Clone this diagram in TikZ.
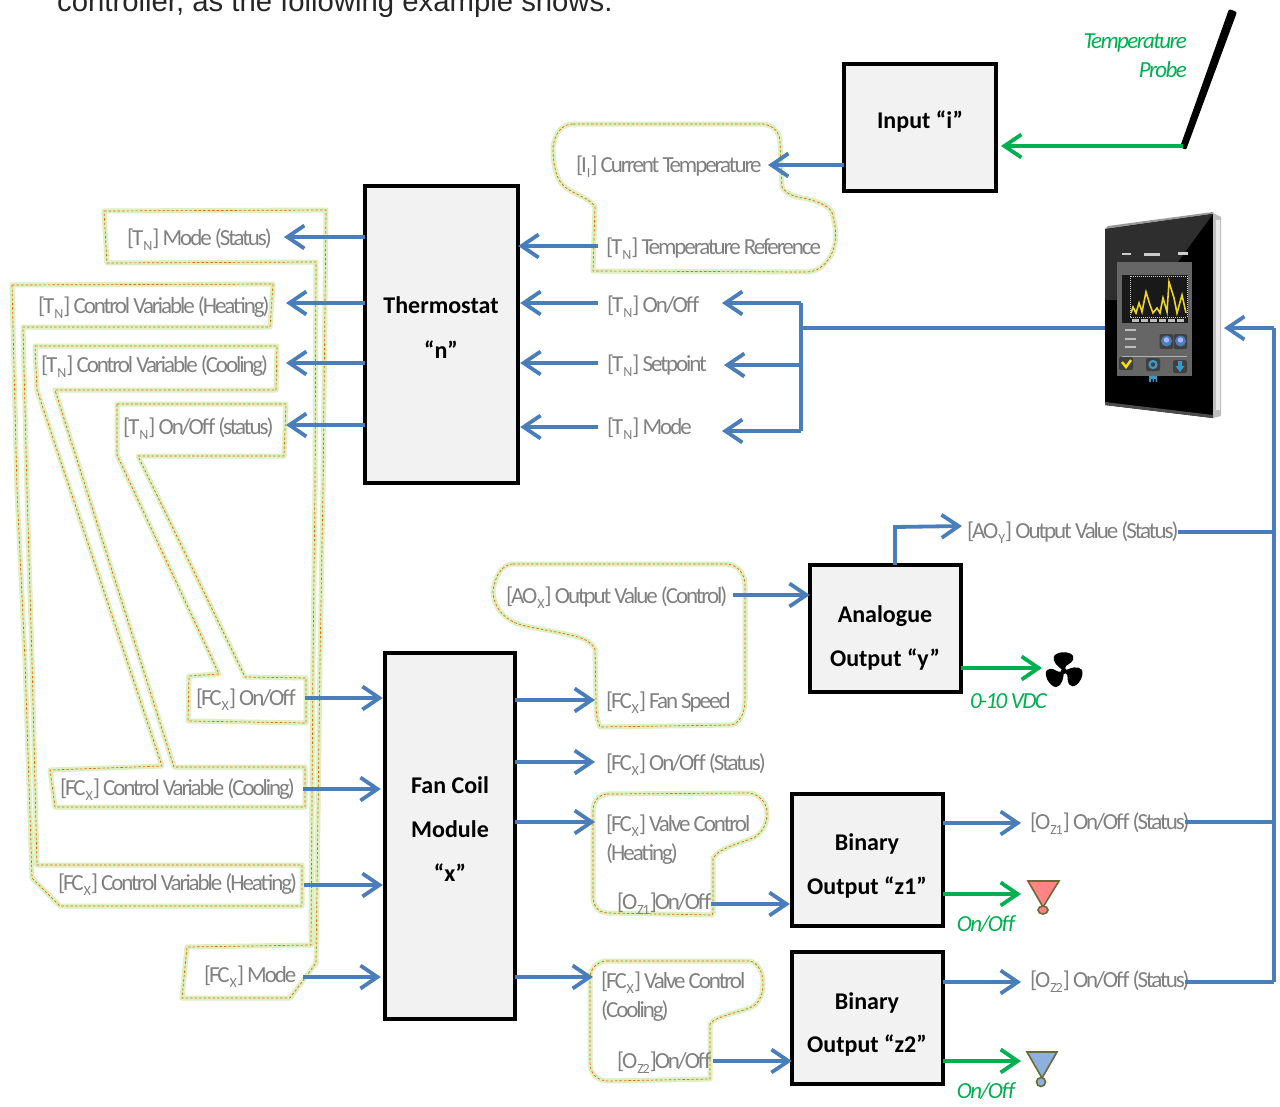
\documentclass[tikz,border=0pt]{standalone}
\usepackage{fontspec}
\setmainfont{Carlito}
\newfontfamily\labfont[LetterSpace=-9]{Carlito}
\newfontfamily\grnfont[LetterSpace=-7]{Carlito}
\newfontfamily\topfont{Liberation Sans}
\usetikzlibrary{arrows.meta,calc}
\definecolor{labgrey}{HTML}{808080}
\definecolor{arrblue}{HTML}{4A7EBB}
\definecolor{arrgreen}{HTML}{00B050}
\definecolor{halo}{HTML}{DDF0C0}
\definecolor{dashorange}{HTML}{E8660F}
\definecolor{boxfill}{HTML}{F2F2F2}
\definecolor{olive}{HTML}{6B6B3A}
\definecolor{lampred}{HTML}{FF8585}
\definecolor{lampblue}{HTML}{8DB0DC}
\newcommand{\sbx}[1]{\raisebox{-0.22em}{\fontsize{14}{14}\selectfont #1}}
\tikzset{
  x=1pt,y=-1pt,
  box/.style={draw=black,line width=3.3pt,fill=boxfill,inner sep=0pt},
  boxlab/.style={font=\fontsize{24}{24}\selectfont\bfseries,inner sep=0pt,anchor=base},
  lab/.style={anchor=base west,inner sep=0pt,text=labgrey,font=\fontsize{23}{23}\selectfont\labfont},
  grlab/.style={anchor=base east,inner sep=0pt,text=arrgreen,font=\fontsize{23}{23}\selectfont\grnfont\itshape},
  blob/.style={draw=dashorange,line width=0.7pt,dash pattern=on 2.5pt off 2pt,
     preaction={draw=halo,line width=5pt,solid,line join=round},line join=round},
  barr/.style={draw=arrblue,line width=3.8pt,-{Straight Barb[length=17pt,width=23pt,line width=3.8pt]}},
  garr/.style={draw=arrgreen,line width=3.8pt,-{Straight Barb[length=17pt,width=23pt,line width=3.8pt]}},
  bline/.style={draw=arrblue,line width=3.6pt},
  lamp/.style={draw=olive,line width=1.6pt},
}
\begin{document}
\begin{tikzpicture}
\clip (0,0) rectangle (1280,1106);
\fill[white] (0,0) rectangle (1280,1106);
\node[anchor=base west,inner sep=0pt,font=\fontsize{29.3}{29.3}\selectfont\topfont,text=black!85] (toptext) at (57,11) {controller, as the following example shows.};

% halo shapes
\draw[blob] (104,211) -- (326,210) -- (323,490) -- (320,660) -- (316,963) -- (290,998) -- (182,998) -- (187,947) -- (311,945) -- (313,660) -- (315,490) -- (316,262) -- (107,263) -- cycle;
\draw[blob] (12,285) -- (273,284) -- (270,327) -- (23,327) -- (27,490) -- (32,660) -- (37,865) -- (302,865) -- (302,906) -- (60,906) -- (32,878) -- (25,660) -- (17,490) -- cycle;
\draw[blob] (35,346) -- (277,346) -- (276,390) -- (55,390) -- (174,767) -- (305,767) -- (305,807) -- (55,807) -- (50,770) -- (162,766) -- (37,390) -- cycle;
\draw[blob] (117,404) -- (286,404) -- (284,456) -- (138,456) -- (245,677) -- (306,678) -- (306,723) -- (188,721) -- (189,676) -- (219,674) -- (117,455) -- cycle;
\draw[blob] (573,124) -- (763,124) .. controls (775,126) and (780,133) .. (780,143) -- (782,187) .. controls (786,194) and (795,197) .. (803,198) .. controls (822,202) and (833,208) .. (833,217) .. controls (836,228) and (836,235) .. (835,243) .. controls (832,260) and (820,272) .. (807,272) -- (593,271) -- (595,207) .. controls (590,198) and (575,195) .. (565,187) .. controls (556,180) and (553,165) .. (553,147) .. controls (555,133) and (562,124) .. (573,124) -- cycle;
\draw[blob] (513,564) -- (727,564) .. controls (738,565) and (745,574) .. (745,585) -- (745,700) .. controls (745,715) and (738,725) .. (730,725) -- (600,727) .. controls (597,720) and (596,715) .. (596,700) -- (595,649) .. controls (590,640) and (580,637) .. (570,635) .. controls (540,628) and (520,627) .. (510,620) .. controls (497,612) and (493,600) .. (493,591) .. controls (495,575) and (503,564) .. (513,564) -- cycle;
\draw[blob] (607,794) -- (750,793) .. controls (760,795) and (767,803) .. (767,813) .. controls (767,825) and (762,832) .. (755,837) .. controls (745,842) and (720,847) .. (713,858) -- (713,913) -- (712,915) -- (607,913) .. controls (597,912) and (593,905) .. (593,896) -- (593,809) .. controls (594,800) and (600,794) .. (607,794) -- cycle;
\draw[blob] (607,961) -- (750,961) .. controls (758,963) and (763,972) .. (763,983) .. controls (763,995) and (760,1000) .. (755,1005) .. controls (745,1012) and (716,1015) .. (710,1024) -- (710,1079) -- (607,1081) .. controls (595,1080) and (590,1072) .. (590,1062) -- (590,976) .. controls (591,968) and (598,961) .. (607,961) -- cycle;

% boxes
\node[inner sep=0pt,minimum width=152pt,minimum height=127pt] (input) at (920,127.5) {};
\draw[box] (365,186) rectangle (518,483);
\node[inner sep=0pt,minimum width=153pt,minimum height=297pt] (thermo) at (441.5,334.5) {};
\draw[box] (385,653) rectangle (515,1019);
\node[inner sep=0pt,minimum width=130pt,minimum height=366pt] (fancoil) at (450,836) {};
\draw[box] (810,565) rectangle (961,692);
\node[inner sep=0pt,minimum width=151pt,minimum height=127pt] (analog) at (885.5,628.5) {};
\draw[box] (792,794) rectangle (943,926);
\node[inner sep=0pt,minimum width=151pt,minimum height=132pt] (bz1) at (867.5,860) {};
\draw[box] (792,952) rectangle (943,1084);
\node[inner sep=0pt,minimum width=151pt,minimum height=132pt] (bz2) at (867.5,1018) {};
\draw[box] (844,64) rectangle (996,191);

\node[boxlab] (tInput) at (920,128) {Input “i”};
\node[boxlab] (tTh1) at (441,313) {Thermostat};
\node[boxlab] (tTh2) at (441,358) {“n”};
\node[boxlab] (tFc1) at (450,793) {Fan Coil};
\node[boxlab] (tFc2) at (450,837) {Module};
\node[boxlab] (tFc3) at (450,881) {“x”};
\node[boxlab] (tAn1) at (885,622) {Analogue};
\node[boxlab] (tAn2) at (885,666) {Output “y”};
\node[boxlab] (tZ11) at (867,850) {Binary};
\node[boxlab] (tZ12) at (867,894) {Output “z1”};
\node[boxlab] (tZ21) at (867,1009) {Binary};
\node[boxlab] (tZ22) at (867,1052) {Output “z2”};

% labels
\node[lab] (l1) at (127,245) {[T\sbx{N}] Mode (Status)};
\node[lab] (l2) at (38,313) {[T\sbx{N}] Control Variable (Heating)};
\node[lab] (l3) at (41,372) {[T\sbx{N}] Control Variable (Cooling)};
\node[lab] (l4) at (123,434) {[T\sbx{N}] On/Off (status)};
\node[lab] (l5) at (576,172) {[I\sbx{I}] Current Temperature};
\node[lab] (l6) at (606,254) {[T\sbx{N}] Temperature Reference};
\node[lab] (l7) at (607,312) {[T\sbx{N}] On/Off};
\node[lab] (l8) at (607,371) {[T\sbx{N}] Setpoint};
\node[lab] (l9) at (607,434) {[T\sbx{N}] Mode};
\node[lab] (l10) at (967,538) {[AO\sbx{Y}] Output Value (Status)};
\node[lab] (l11) at (506,603) {[AO\sbx{X}] Output Value (Control)};
\node[lab] (l12) at (606,708) {[FC\sbx{X}] Fan Speed};
\node[lab] (l13) at (606,770) {[FC\sbx{X}] On/Off (Status)};
\node[lab] (l14a) at (606,831) {[FC\sbx{X}] Valve Control};
\node[lab] (l14b) at (606,860) {(Heating)};
\node[lab] (l15) at (617,909) {[O\sbx{Z1}]On/Off};
\node[lab] (l16a) at (601,988) {[FC\sbx{X}] Valve Control};
\node[lab] (l16b) at (601,1017) {(Cooling)};
\node[lab] (l17) at (617,1068) {[O\sbx{Z2}]On/Off};
\node[lab] (l18) at (1030,829) {[O\sbx{Z1}] On/Off (Status)};
\node[lab] (l19) at (1030,987) {[O\sbx{Z2}] On/Off (Status)};
\node[lab] (l20) at (196,705) {[FC\sbx{X}] On/Off};
\node[lab] (l21) at (60,795) {[FC\sbx{X}] Control Variable (Cooling)};
\node[lab] (l22) at (58,890) {[FC\sbx{X}] Control Variable (Heating)};
\node[lab] (l23) at (204,982) {[FC\sbx{X}] Mode};

\node[grlab] (g1) at (1187,48) {Temperature};
\node[grlab] (g2) at (1187,77) {Probe};
\node[grlab] (g3) at (1047,708) {0-10 VDC};
\node[grlab] (g4) at (1015,931) {On/Off};
\node[grlab] (g5) at (1015,1098) {On/Off};

% device (screen photo)
\node[inner sep=0pt,minimum width=116pt,minimum height=205pt] (device) at (1163,316) {};
\fill[black] (1105,229) -- (1213,213) -- (1213,418) -- (1105,405) -- cycle;
\fill[gray!50!white] (1213,213) -- (1221,217) -- (1221,416) -- (1213,418) -- cycle;
\fill[white!92!black] (1216,220) rectangle (1220,410);
\fill[black!40] (1105,229) -- (1108,226) -- (1213,212) -- (1213,214) -- cycle;
\fill[black!70] (1105,405) -- (1213,418) -- (1213,415) -- (1105,402) -- cycle;
\fill[black!82] (1105,229) -- (1213,214) -- (1150,300) -- (1105,300) -- cycle;
\fill[black!60] (1117,262) rectangle (1192,376);
\fill[black!90] (1122,275) rectangle (1188,323);
\draw[white!80!black,line width=.7pt,dash pattern=on 1pt off 1pt] (1130,276) rectangle (1187,317);
\draw[yellow!70!brown,line width=1.6pt] (1131,313) -- (1133,307) -- (1136,313) -- (1139,303) -- (1142,312) -- (1146,292) -- (1150,305) -- (1153,313) -- (1157,308) -- (1160,313) -- (1163,298) -- (1167,312) -- (1169,282) -- (1174,298) -- (1177,313) -- (1182,295) -- (1186,313);
\foreach \xx in {1132,1141,1150,1159,1168,1177}{\fill[white!75!black] (\xx,319) rectangle +(7,3);}
\foreach \yy in {329,338,346}{\fill[white!75!black] (1125,\yy) rectangle +(11,2);}
\draw[white!70!black,line width=.5pt] (1122,356) -- (1187,356);
\fill[white!80!black] (1122,253) rectangle +(9,2);
\fill[white!80!black] (1144,253) rectangle +(16,3);
\fill[white!80!black] (1178,252) rectangle +(10,3);
\foreach \xx in {1166,1180}{
 \fill[black!75,rounded corners=2pt] (\xx-6.5,334) rectangle (\xx+7,349);
 \fill[arrblue] (\xx+.5,341) circle[radius=5.5];
 \fill[white!70!blue] (\xx+.5,340) circle[radius=2.7];
}
\fill[black!75,rounded corners=2pt] (1119,357) rectangle (1133,370);
\draw[yellow!85!orange,line width=2.4pt] (1122,362) -- (1126,367) -- (1131,360);
\fill[black!75,rounded corners=2pt] (1146,358) rectangle (1160,371);
\draw[arrblue!80!cyan,line width=2.2pt] (1153,364.5) circle[radius=3.5];
\fill[black!75,rounded corners=2pt] (1173,360) rectangle (1187,373);
\fill[arrblue!80!cyan] (1178,361) rectangle (1182,366) (1175.5,366) -- (1184.5,366) -- (1180,372) -- cycle;
\fill[arrblue!80!cyan] (1149,376) rectangle (1157,382);
\fill[black] (1151,379) rectangle (1152.5,382) (1154,379) rectangle (1155.5,382);

% probe
\node[inner sep=0pt,minimum width=55pt,minimum height=142pt] (probe) at (1208,78) {};
\fill[black,rounded corners=2pt] (1180,147) -- (1186,150) -- (1237,12) -- (1229,9) -- cycle;

% fan
\node[inner sep=0pt,minimum size=40pt] (fan) at (1064,671) {};
\foreach \a in {0,120,240}{
 \fill[black,rotate around={\a:(1064,671)}] (1064,671) .. controls (1058,667) and (1052,662) .. (1054,656) .. controls (1058,651) and (1070,651) .. (1073,656) .. controls (1075,662) and (1068,664) .. (1066,666) -- cycle;
}
\fill[black] (fan) circle[radius=3];

% lamps
\coordinate (lampR) at (1043,881);
\draw[lamp,fill=lampred] (1028,881) -- (1059,881) -- (1043,907) -- cycle;
\draw[lamp,fill=lampred] (1043,910) ellipse[x radius=5,y radius=4];
\coordinate (lampB) at (1042,1052);
\draw[lamp,fill=lampblue] (1027,1052) -- (1057,1052) -- (1042,1078) -- cycle;
\draw[lamp,fill=lampblue] (1041,1082) circle[radius=4.5];

% connector ends
\coordinate (a1) at (284,237);
\coordinate (a2) at (286,303);
\coordinate (a3) at (286,363);
\coordinate (a4) at (286,425);
\draw[barr] (a1 -| thermo.west) -- (a1);
\draw[barr] (a2 -| thermo.west) -- (a2);
\draw[barr] (a3 -| thermo.west) -- (a3);
\draw[barr] (a4 -| thermo.west) -- (a4);
\coordinate (b1) at (598,246);
\coordinate (b2) at (598,303);
\coordinate (b3) at (598,363);
\coordinate (b4) at (598,427);
\draw[barr] (b1) -- (b1 -| thermo.east);
\draw[barr] (b2) -- ($(b2 -| thermo.east)+(2,0)$);
\draw[barr] (b3) -- ($(b3 -| thermo.east)+(2,0)$);
\draw[barr] (b4) -- ($(b4 -| thermo.east)+(2,0)$);
\coordinate (busT) at (801,303);
\coordinate (busM) at (801,365);
\coordinate (busB) at (801,431);
\coordinate (tipT) at (722,303);
\coordinate (tipM) at (724,365);
\coordinate (tipB) at (722,431);
\draw[barr] (busT) -- (tipT);
\draw[barr] (busM) -- (tipM);
\draw[barr] (busB) -- (tipB);
\draw[bline,line cap=square] (busT) -- (busB);
\coordinate (devL) at (801,328);
\draw[bline] (devL) -- (device.west |- devL);
\coordinate (rTop) at (1274,328);
\coordinate (rBot) at (1274,982);
\draw[bline,line cap=square] (rTop) -- (rBot);
\coordinate (rTip) at (1224,328);
\draw[barr] (rTop) -- (rTip);
\coordinate (c1) at (1178,532);
\coordinate (c2) at (1185,822);
\coordinate (c3) at (1185,982);
\draw[bline] (c1) -- (c1 -| rTop);
\draw[bline] (c2) -- (c2 -| rTop);
\draw[bline] (c3) -- (c3 -| rTop);
\coordinate (d1) at (895,527);
\coordinate (d2) at (962,526);
\draw[barr] (d1 |- analog.north) -- (d1) -- (d2);
\coordinate (e1) at (733,595);
\draw[barr] (e1) -- (e1 -| analog.west);
\coordinate (f1) at (768,165);
\draw[barr] (f1 -| input.west) -- (f1);
\coordinate (pr) at (1183,146);
\coordinate (prt) at (1001,146);
\draw[garr] (pr) -- (prt);
\coordinate (h1) at (1042,668);
\draw[garr] (h1 -| analog.east) -- (h1);
\coordinate (i1) at (595,700);
\coordinate (i2) at (595,762);
\coordinate (i3) at (595,822);
\coordinate (i4) at (593,977);
\draw[barr] (i1 -| fancoil.east) -- (i1);
\draw[barr] (i2 -| fancoil.east) -- (i2);
\draw[barr] (i3 -| fancoil.east) -- (i3);
\draw[barr] (i4 -| fancoil.east) -- (i4);
\coordinate (j1) at (305,698);
\coordinate (j2) at (303,789);
\coordinate (j3) at (304,885);
\coordinate (j4) at (303,977);
\draw[barr] (j1) -- ($(j1 -| fancoil.west)+(-2,0)$);
\draw[barr] (j2) -- ($(j2 -| fancoil.west)+(-4,0)$);
\draw[barr] (j3) -- ($(j3 -| fancoil.west)+(-2,0)$);
\draw[barr] (j4) -- ($(j4 -| fancoil.west)+(-4,0)$);
\coordinate (k1) at (711,904);
\coordinate (k2) at (713,1061);
\draw[barr] (k1) -- ($(k1 -| bz1.west)+(-2,0)$);
\draw[barr] (k2) -- (k2 -| bz2.west);
\coordinate (m1) at (1021,823);
\coordinate (m2) at (1021,894);
\coordinate (m3) at (1021,982);
\coordinate (m4) at (1021,1061);
\draw[barr] (m1 -| bz1.east) -- (m1);
\draw[garr] (m2 -| bz1.east) -- (m2);
\draw[barr] (m3 -| bz2.east) -- (m3);
\draw[garr] (m4 -| bz2.east) -- (m4);
\end{tikzpicture}
\end{document}
